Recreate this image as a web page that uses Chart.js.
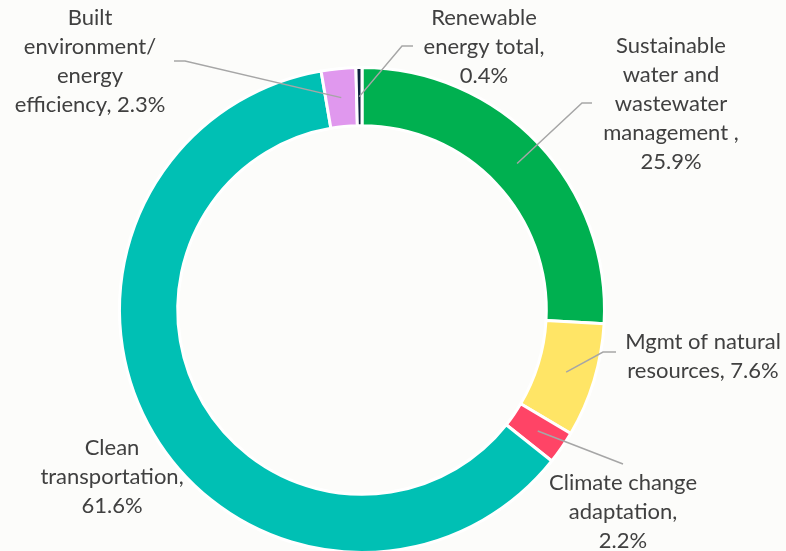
<!DOCTYPE html>
<html>
<head>
<meta charset="utf-8">
<script src="https://cdn.jsdelivr.net/npm/chart.js@4"></script>
<style>
  html, body { margin: 0; padding: 0; background: #fcfcfa; overflow: hidden; }
  #myChart { display: block; }
</style>
</head>
<body>
<canvas id="myChart" width="786" height="560"></canvas>
<script>
// slices, clockwise from 12 o'clock
let categories = ['Sustainable water and wastewater management ', 'Mgmt of natural resources',
                  'Climate change adaptation', 'Clean transportation',
                  'Built environment/ energy efficiency', 'Renewable energy total'];
let shares = [25.9, 7.6, 2.2, 61.6, 2.3, 0.4];
let colors = ['#00b050', '#ffe566', '#ff4466', '#00c0b4', '#e098ee', '#0e1f3f'];

// how each label wraps, {v} is the share
let labelLines = [
    ['Sustainable', 'water and', 'wastewater', 'management ,', '{v}%'],
    ['Mgmt of natural', 'resources, {v}%'],
    ['Climate change', 'adaptation,', '{v}%'],
    ['Clean', 'transportation,', '{v}%'],
    ['Built', 'environment/', 'energy', 'efficiency, {v}%'],
    ['Renewable', 'energy total,', '{v}%']
];

// label block placement: text center x, first line y, leader start + elbow (null = no leader)
let labelPos = [
    {x: 671, y: 46,  line: [[592, 103], [582, 103]]},
    {x: 703, y: 342, line: [[616, 352], [603, 352]]},
    {x: 623, y: 483, line: [[623, 464], [623, 464]]},
    {x: 112, y: 448, line: null},
    {x: 90,  y: 18,  line: [[174, 61], [185, 61]]},
    {x: 484, y: 18,  line: [[413, 46], [402, 46]]}
];

const lineHeight = 29;

const calloutPlugin = {
    id: 'callouts',
    afterDraw(chart) {
        const ctx = chart.ctx;
        const arcs = chart.getDatasetMeta(0).data;
        ctx.save();
        // leader lines into the middle of each ring segment
        ctx.strokeStyle = '#a6a6a6';
        ctx.lineWidth = 1.5;
        arcs.forEach(function (arc, i) {
            const pos = labelPos[i];
            if (!pos.line) return;
            const p = arc.getProps(['x', 'y', 'startAngle', 'endAngle', 'innerRadius', 'outerRadius'], true);
            const mid = (p.startAngle + p.endAngle) / 2;
            const r = (p.innerRadius + p.outerRadius) / 2;
            ctx.beginPath();
            ctx.moveTo(pos.line[0][0], pos.line[0][1]);
            ctx.lineTo(pos.line[1][0], pos.line[1][1]);
            ctx.lineTo(p.x + Math.cos(mid) * r, p.y + Math.sin(mid) * r);
            ctx.stroke();
        });
        // label text
        ctx.fillStyle = '#404040';
        ctx.font = '22px Lato';
        ctx.textAlign = 'center';
        ctx.textBaseline = 'middle';
        labelLines.forEach(function (lines, i) {
            lines.forEach(function (l, k) {
                ctx.fillText(l.replace('{v}', shares[i].toFixed(1)), labelPos[i].x, labelPos[i].y + k * lineHeight);
            });
        });
        ctx.restore();
    }
};

const myChart = new Chart(document.getElementById('myChart'), {
    type: 'doughnut',
    data: {
        labels: categories,
        datasets: [{
            data: shares,
            backgroundColor: colors,
            borderColor: '#ffffff',
            borderWidth: 3
        }]
    },
    options: {
        responsive: false,
        animation: false,
        cutout: '76%',
        layout: { padding: { left: 118, right: 180, top: 66, bottom: 6 } },
        plugins: {
            legend: { display: false },
            tooltip: { enabled: false }
        }
    },
    plugins: [calloutPlugin]
});
</script>
</body>
</html>
